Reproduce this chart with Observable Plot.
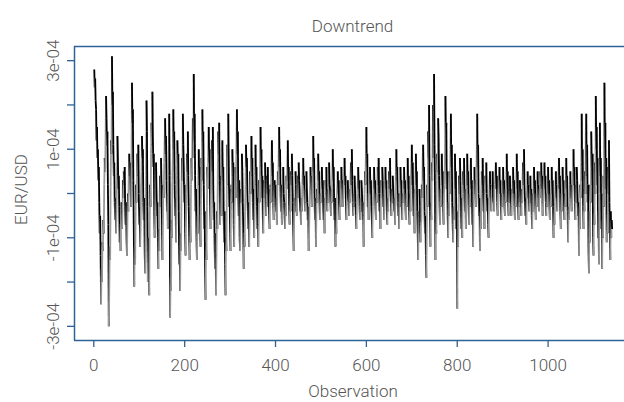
<!DOCTYPE html>
<html>
<head>
<meta charset="utf-8">
<script src="https://cdn.jsdelivr.net/npm/d3@7"></script>
<script src="https://cdn.jsdelivr.net/npm/@observablehq/plot@0.6"></script>
<style>
  html, body { margin: 0; padding: 0; background: #fff; overflow: hidden; }
</style>
</head>
<body>
<script>
// EUR/USD series, in units of 1e-5, observation 1..1141
const values = [
  28, 24, 26, 21, 19, 12, 15, 8, 10, 3, 6, -2, -9, -5, -14, -25, -17, -20, -11, -13,
  -6, -9, 2, 8, 5, 13, 22, 17, 11, 14, 2, -7, -30, -22, -12, -15, 1, 12, 9, 31,
  20, 23, 11, 4, 7, -2, -6, -1, -9, -4, 3, 13, 8, 1, 4, -3, -11, -7, -13, -5,
  -2, -8, -4, 3, -1, 5, 2, 6, -3, -7, -2, -10, -14, -6, 0, -4, 5, 9, 4, 7,
  1, -3, 6, 25, 16, 19, 3, -8, -21, -12, -16, -4, 2, -2, 6, 9, 4, 11, 0, -7,
  -3, -12, -8, 1, 5, 13, 8, 10, -2, -6, -1, -13, -18, -9, 4, 21, 14, -3, -20, -10,
  -15, -23, -6, 2, -3, 9, 16, 11, 23, 13, 6, 9, -4, -10, -6, 3, 7, 1, -5, -2,
  -10, -17, -8, -13, 0, 4, -3, 8, 2, -6, -15, -9, 2, -1, 7, 12, 17, 9, 13, 3,
  -4, 0, -8, 5, 11, 18, 4, -28, -19, -22, -6, -10, 3, 8, 19, 10, 14, 2, -5, -1,
  -11, -3, 4, 12, 7, 9, -4, -16, -12, -22, -9, -13, 1, 8, 3, 18, 11, 6, -2, 2,
  -9, -14, -6, 0, 9, 5, 14, 4, -3, -10, -15, -7, -11, 2, 8, 3, 13, 17, 8, 27,
  12, 18, 4, -4, 1, -10, -15, -5, -9, 4, 10, 2, 6, -6, -12, -2, 8, 3, 19, 10,
  14, 2, -8, -4, -18, -24, -11, -15, -3, 6, 1, 12, 15, 7, 10, -3, -8, 0, 7, 12,
  5, 15, 1, -6, -2, -12, -17, -9, -23, -14, -4, -8, 6, 14, 9, 16, 3, -7, -2, 4,
  -5, 9, 12, 3, 6, -6, -11, -4, -16, -23, -10, -13, 5, 11, 2, 18, 8, -3, 1, -9,
  -13, -4, 2, -2, 10, 4, 7, -7, -12, -3, 0, 6, -1, 12, 19, 9, 14, 0, -5, 3,
  -10, -13, -4, 1, -2, 9, 5, -2, -8, -17, -9, -12, -4, 2, 11, 6, 8, 1, -4, -8,
  -2, -12, -6, 5, 0, 9, 13, 4, 8, -2, -6, 1, -10, -5, 4, 11, 2, 6, -3, -8,
  -1, -12, -7, 3, -2, 8, 15, 6, 10, -1, 4, -5, -9, -3, 3, -1, 7, 3, -5, -2,
  4, 0, 6, -3, 1, -5, -8, -2, 2, -2, 8, 12, 4, 7, -2, -6, -1, 3, -3, 2,
  -4, -1, -7, 1, 5, 2, 9, 15, 6, 10, 0, -4, 2, -7, -3, 3, 6, 0, -2, -5,
  -8, -2, -5, 4, 1, 8, 12, 3, 6, -3, -7, 0, -4, 5, 2, 9, 4, -2, -8, -13,
  -6, -1, -4, 5, 2, -2, -5, 1, 4, -1, 7, 3, 1, -4, -2, -7, -1, -4, 2, 5,
  8, 2, 4, -1, -4, 1, -2, 5, 1, -2, -6, -3, -13, -8, -2, 2, 6, 1, 4, -3,
  1, 6, 13, 5, 8, -2, -6, -1, -12, -4, 1, -2, 7, 9, 3, 5, -3, -6, 0, -2,
  3, 6, 1, 3, -3, -6, -1, -9, -3, 3, 0, 6, -1, -4, 1, -2, 4, 7, 2, 1,
  -2, -5, 1, -2, 5, 10, 3, 6, -2, -6, -1, -12, -6, -9, -1, 2, 5, 0, 3, -3,
  -6, -1, -3, 3, 6, 1, 3, -3, -1, 2, 5, 8, 2, 4, -3, -6, -1, 0, 3, -1,
  -2, -5, 1, -2, 4, 7, 2, 10, 3, -2, -5, 0, -3, 4, 1, -2, -5, -8, -3, 0,
  3, 6, 1, 3, -3, -6, -1, -4, 3, 1, -2, -6, -2, -12, -5, 0, 5, 2, 10, 15,
  6, 9, -3, 0, -6, 2, 3, 6, 0, 3, -3, -6, -10, -4, -1, 3, 6, 1, 3, -3,
  -6, 0, -2, 3, 6, 2, 8, 0, -4, -1, -8, 0, 3, -1, 6, 3, -3, 0, -6, 0,
  3, 6, 1, 3, -4, -7, -1, -4, 2, 5, 1, 8, 1, -2, -5, 1, -2, 4, 1, -1,
  -4, -1, -7, 1, 5, 10, 3, 6, -2, -5, 0, -8, 0, -3, 6, 1, 3, -3, -6, 0,
  -2, 3, 6, 1, 3, -3, -6, 0, -3, 4, 8, 1, 4, -4, -7, 0, -4, 3, 7, 11,
  2, 7, -1, -5, 1, -9, -1, 4, 9, 2, 5, -4, -9, -15, -4, -9, 1, -3, -11, -7,
  -6, 2, -1, 8, 11, 3, 6, -4, -9, -5, -14, -19, -8, 2, -3, 14, 8, 20, 4, -4,
  -12, -2, -6, 7, 3, 14, 20, 8, 27, 11, 1, -15, -7, -9, 3, 9, 5, 17, 13, 4,
  -2, -7, 1, -3, 5, 9, 2, 5, -3, -7, 0, 2, 8, 22, 14, 16, 1, 5, -5, -10,
  -2, -5, 5, 0, 10, 18, 6, 11, -2, -7, -11, -3, -6, 4, 9, 1, 5, -8, -4, -26,
  -8, -12, -2, 4, 0, 8, 3, -4, -8, -1, -10, 0, 5, 2, 8, 0, -4, 1, -8, 0,
  4, 9, 2, 5, -3, -7, 0, -3, 5, 8, 1, 3, -7, -2, -12, -2, 2, 6, 0, 3,
  -3, 3, 10, 18, 6, 11, 0, -5, -1, -13, -4, -8, 1, 5, 2, 8, 0, -4, 1, -8,
  0, 4, 1, 7, 0, -4, -1, -7, -10, -2, 2, 5, -1, 2, -4, 1, 2, 5, -2, -1,
  -4, 1, 2, 5, 7, 1, 4, -2, -5, 0, 1, 4, 6, 0, 3, -3, -6, 0, -3, 3,
  6, 0, 3, -3, -5, 1, -2, 4, 9, 1, 5, -2, -5, 1, -2, 4, -2, 1, -5, -3,
  0, 3, 6, 0, 3, -3, -6, 0, -3, 3, 9, 1, 5, -3, -6, 0, -3, 3, -2, 1,
  -5, 1, -2, 4, 7, 2, 10, 2, -2, -5, -1, -7, -1, 2, 5, -1, 2, -4, -2, 1,
  4, -2, 1, -5, -8, 0, -4, 3, 6, 0, 3, -3, -6, 0, -3, 3, 5, -1, 2, -4,
  1, -1, 5, 2, 7, 1, 4, -5, -2, 1, 4, 7, 1, 4, -2, -5, 0, -3, 3, 6,
  0, 3, -3, -6, 0, -3, 3, 6, 0, 3, -3, -10, -3, -7, -2, 2, 5, -1, 2, -4,
  -1, 2, 5, 8, 1, 4, -4, -8, 0, -4, 3, 6, 0, 3, -3, -6, 0, -3, 4, 8,
  1, 4, -4, -11, -3, -6, -2, 2, 5, -1, 2, -4, -1, 2, 5, 10, 2, 6, -2, -6,
  2, -2, 6, 3, -1, -5, -2, -14, -3, -8, 2, -1, 7, 18, 3, 10, -3, -8, 1, -4,
  5, 0, 14, 18, 4, 11, -2, 2, -13, -18, -4, -11, 2, -2, 14, 8, 2, 9, -10, -14,
  -3, -7, 7, 0, 22, 10, 15, 2, 8, -10, -4, -16, 0, 16, 4, 8, -8, 0, -17, -6,
  -10, 4, -3, 25, 8, 16, 1, 8, -11, -5, -9, 6, 0, 12, -2, -9, -15, -4, -10, -6, -8
];
const unit = 1e-5;

// Axis ticks and labels
const xTicks = [0, 200, 400, 600, 800, 1000];
const yTicks = [-3e-4, -2e-4, -1e-4, 0, 1e-4, 2e-4, 3e-4];
const yLabelValues = [3e-4, 1e-4, -1e-4, -3e-4];
const yLabelTexts = ["3e-04", "1e-04", "-1e-04", "-3e-04"];

const title = "Downtrend";
const xTitle = "Observation";
const yTitle = "EUR/USD";

// Scale limits (plot region)
const xDomain = [-42.5, 1168.2];
const yDomain = [-3.32e-4, 3.32e-4];

const blue = "#2f6296";
const textColor = "#555555";
const font = "Roboto, 'Liberation Sans', sans-serif";
const fs = 17;

const points = values.map((v, i) => ({obs: i + 1, value: v * unit}));
const segments = d3.pairs(points).map(([a, b]) => ({
  x1: a.obs, y1: a.value, x2: b.obs, y2: b.value, down: b.value < a.value
}));
const yLabels = yLabelValues.map((v, i) => ({v, t: yLabelTexts[i]}));

const chart = Plot.plot({
  width: 624,
  height: 402,
  marginTop: 46,
  marginBottom: 62,
  marginLeft: 74,
  marginRight: 0,
  style: {fontFamily: font, fontWeight: 300, background: "#fff", overflow: "visible"},
  x: {domain: xDomain, axis: null},
  y: {domain: yDomain, axis: null},
  marks: [
    Plot.link(segments, {
      x1: "x1", y1: "y1", x2: "x2", y2: "y2",
      stroke: d => d.down ? "#000000" : "#999999",
      strokeWidth: 1.8,
      strokeLinecap: "butt"
    }),
    Plot.ruleX([xDomain[0]], {stroke: blue, strokeWidth: 1.5}),
    Plot.ruleY([yDomain[0], yDomain[1]], {stroke: blue, strokeWidth: 1.5}),
    Plot.axisX(xTicks, {tickSize: 7, stroke: blue, strokeWidth: 1.3, fill: "none", tickFormat: () => ""}),
    Plot.axisY(yTicks, {tickSize: 7, stroke: blue, strokeWidth: 1.3, fill: "none", tickFormat: () => ""}),
    Plot.text(xTicks, {
      x: d => d, text: d => String(d), frameAnchor: "bottom",
      dy: 30, lineAnchor: "bottom", textAnchor: "middle",
      fontSize: fs, fill: textColor
    }),
    Plot.text(yLabels, {
      y: "v", text: "t", frameAnchor: "left",
      dx: -15.5, rotate: -90, lineAnchor: "bottom", textAnchor: "middle",
      fontSize: fs, fill: textColor
    }),
    Plot.text([yTitle], {
      text: d => d, frameAnchor: "left", dx: -48, dy: -4, rotate: -90,
      lineAnchor: "bottom", textAnchor: "middle", fontSize: fs, fill: textColor
    }),
    Plot.text([xTitle], {
      text: d => d, frameAnchor: "bottom", dx: 3.5, dy: 56,
      lineAnchor: "bottom", textAnchor: "middle", fontSize: fs, fill: textColor
    }),
    Plot.text([title], {
      text: d => d, frameAnchor: "top", dx: 3, dy: -15,
      lineAnchor: "bottom", textAnchor: "middle", fontSize: fs, fill: textColor
    })
  ]
});
document.body.appendChild(chart);
</script>
</body>
</html>
